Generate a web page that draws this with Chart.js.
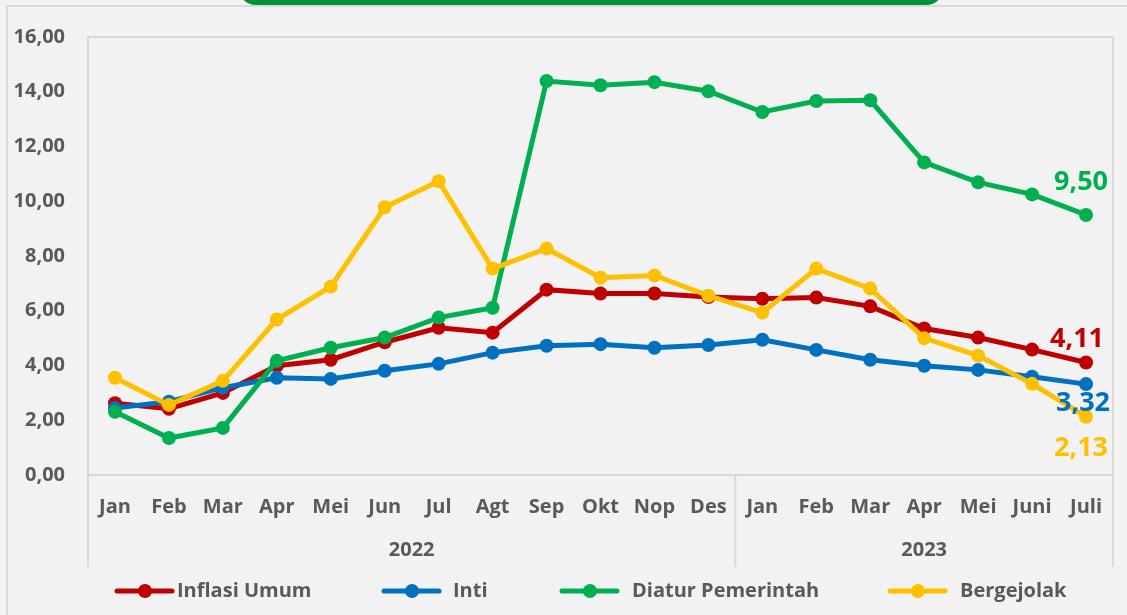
<!DOCTYPE html>
<html>
<head>
<meta charset="utf-8">
<script src="https://cdn.jsdelivr.net/npm/chart.js@4"></script>
<style>
    html, body { margin: 0; padding: 0; background: #f2f2f2; }
    #wrap { width: 1127px; height: 615px; }
</style>
</head>
<body>
<div id="wrap"><canvas id="inflasiChart" width="1127" height="615"></canvas></div>
<script>
/* ================= DATA ================= */
const bulan = ['Jan', 'Feb', 'Mar', 'Apr', 'Mei', 'Jun', 'Jul', 'Agt', 'Sep', 'Okt', 'Nop', 'Des',
               'Jan', 'Feb', 'Mar', 'Apr', 'Mei', 'Juni', 'Juli'];
const tahun = ['2022', '2023'];
const jumlahBulan = [12, 7];

const inflasiUmum = [2.62, 2.42, 3.00, 3.99, 4.21, 4.85, 5.38, 5.20, 6.77, 6.63, 6.63, 6.50, 6.44, 6.48, 6.16, 5.35, 5.02, 4.58, 4.11];
const inti = [2.45, 2.68, 3.19, 3.55, 3.51, 3.81, 4.06, 4.47, 4.72, 4.78, 4.65, 4.75, 4.94, 4.57, 4.21, 3.99, 3.84, 3.59, 3.32];
const diaturPemerintah = [2.31, 1.35, 1.72, 4.17, 4.65, 5.02, 5.75, 6.11, 14.39, 14.24, 14.35, 14.02, 13.26, 13.66, 13.69, 11.42, 10.69, 10.25, 9.50];
const bergejolak = [3.55, 2.56, 3.44, 5.68, 6.88, 9.78, 10.73, 7.54, 8.27, 7.21, 7.29, 6.55, 5.93, 7.54, 6.81, 5.00, 4.36, 3.33, 2.13];

const yTicks = [0, 2, 4, 6, 8, 10, 12, 14, 16];

const FONT = '"Open Sans", "DejaVu Sans", sans-serif';
const GREY_TEXT = '#595959';
const GREY_LINE = '#d9d9d9';

const fmt = v => v.toFixed(2).replace('.', ',');

/* ================= PLUGIN: frame, years, end labels, legend ================= */
const decorPlugin = {
    id: 'decor',
    beforeDraw(chart) {
        const ctx = chart.ctx;
        ctx.save();
        ctx.fillStyle = '#f2f2f2';
        ctx.fillRect(0, 0, chart.width, chart.height);

        // outer frame
        ctx.strokeStyle = GREY_LINE;
        ctx.lineWidth = 2;
        ctx.beginPath();
        ctx.moveTo(7, chart.height);
        ctx.lineTo(7, 6);
        ctx.lineTo(chart.width, 6);
        ctx.stroke();

        // title box peeking in at the top
        ctx.fillStyle = '#00913a';
        ctx.beginPath();
        ctx.roundRect(238, -40, 706, 45, 18);
        ctx.fill();
        ctx.restore();
    },
    beforeDatasetsDraw(chart) {
        const ctx = chart.ctx;
        const a = chart.chartArea;
        const x = chart.scales.x;
        const groupBottom = 567;
        ctx.save();
        ctx.strokeStyle = GREY_LINE;
        ctx.lineWidth = 2;
        ctx.beginPath();
        ctx.moveTo(a.left, groupBottom);
        ctx.lineTo(a.left, a.top);
        ctx.lineTo(a.right, a.top);
        ctx.lineTo(a.right, groupBottom);
        ctx.moveTo(a.left, a.bottom);
        ctx.lineTo(a.right, a.bottom);

        // year group separators and labels
        const step = (a.right - a.left) / bulan.length;
        let start = 0;
        ctx.fillStyle = GREY_TEXT;
        ctx.font = 'bold 20px ' + FONT;
        ctx.textAlign = 'center';
        ctx.textBaseline = 'middle';
        tahun.forEach((t, i) => {
            const end = start + jumlahBulan[i];
            const x0 = a.left + start * step;
            const x1 = a.left + end * step;
            if (i > 0) {
                ctx.moveTo(x0, a.bottom);
                ctx.lineTo(x0, groupBottom);
            }
            ctx.fillText(t, (x0 + x1) / 2, 550);
            start = end;
        });
        ctx.stroke();
        ctx.restore();
    },
    afterDraw(chart) {
        const ctx = chart.ctx;
        ctx.save();

        // value labels at the last point
        ctx.font = 'bold 27px ' + FONT;
        ctx.textAlign = 'center';
        ctx.textBaseline = 'middle';
        chart.data.datasets.forEach((ds, i) => {
            const meta = chart.getDatasetMeta(i);
            const last = meta.data[meta.data.length - 1];
            ctx.fillStyle = ds.borderColor;
            ctx.fillText(fmt(ds.data[ds.data.length - 1]), last.x + ds.labelDx, last.y + ds.labelDy);
        });

        // legend
        const legendY = 591;
        const lineStart = [117, 384, 562, 890];
        const textStart = [177, 453, 632, 960];
        ctx.font = 'bold 20px ' + FONT;
        ctx.textAlign = 'left';
        chart.data.datasets.forEach((ds, i) => {
            ctx.strokeStyle = ds.borderColor;
            ctx.fillStyle = ds.borderColor;
            ctx.lineWidth = 5;
            ctx.lineCap = 'round';
            ctx.beginPath();
            ctx.moveTo(lineStart[i], legendY);
            ctx.lineTo(lineStart[i] + 55, legendY);
            ctx.stroke();
            ctx.beginPath();
            ctx.arc(lineStart[i] + 28, legendY, 7, 0, Math.PI * 2);
            ctx.fill();
            ctx.fillStyle = GREY_TEXT;
            ctx.fillText(ds.label, textStart[i], legendY);
        });
        ctx.restore();
    }
};

/* ================= CHART ================= */
function seri(label, data, color, order, dx, dy) {
    return {
        label: label,
        data: data,
        borderColor: color,
        backgroundColor: color,
        pointBackgroundColor: color,
        pointBorderColor: color,
        borderWidth: 5,
        pointRadius: 7,
        pointBorderWidth: 0,
        tension: 0,
        order: order,
        labelDx: dx,
        labelDy: dy
    };
}

new Chart(document.getElementById('inflasiChart'), {
    type: 'line',
    data: {
        labels: bulan,
        datasets: [
            seri('Inflasi Umum', inflasiUmum, '#c00000', 3, -9, -23),
            seri('Inti', inti, '#0070c0', 2, -3, 19),
            seri('Diatur Pemerintah', diaturPemerintah, '#00b050', 1, -5, -33),
            seri('Bergejolak', bergejolak, '#ffc000', 0, -5, 32)
        ]
    },
    options: {
        responsive: false,
        animation: false,
        events: [],
        layout: { padding: { top: 37, right: 14, left: 0, bottom: 0 } },
        plugins: {
            legend: { display: false },
            tooltip: { enabled: false }
        },
        scales: {
            x: {
                offset: true,
                grid: { display: false, drawTicks: false },
                border: { display: false },
                ticks: {
                    color: GREY_TEXT,
                    font: { family: FONT, size: 20, weight: 'bold' },
                    padding: 20,
                    maxRotation: 0,
                    autoSkip: false
                },
                afterFit(scale) { scale.height = 140; }
            },
            y: {
                min: yTicks[0],
                max: yTicks[yTicks.length - 1],
                afterBuildTicks(scale) { scale.ticks = yTicks.map(v => ({ value: v })); },
                grid: { display: false, drawTicks: false },
                border: { display: false },
                ticks: {
                    color: GREY_TEXT,
                    font: { family: FONT, size: 20, weight: 'bold' },
                    padding: 23,
                    callback: v => fmt(v)
                },
                afterFit(scale) { scale.width = 88; }
            }
        }
    },
    plugins: [decorPlugin]
});
</script>
</body>
</html>
